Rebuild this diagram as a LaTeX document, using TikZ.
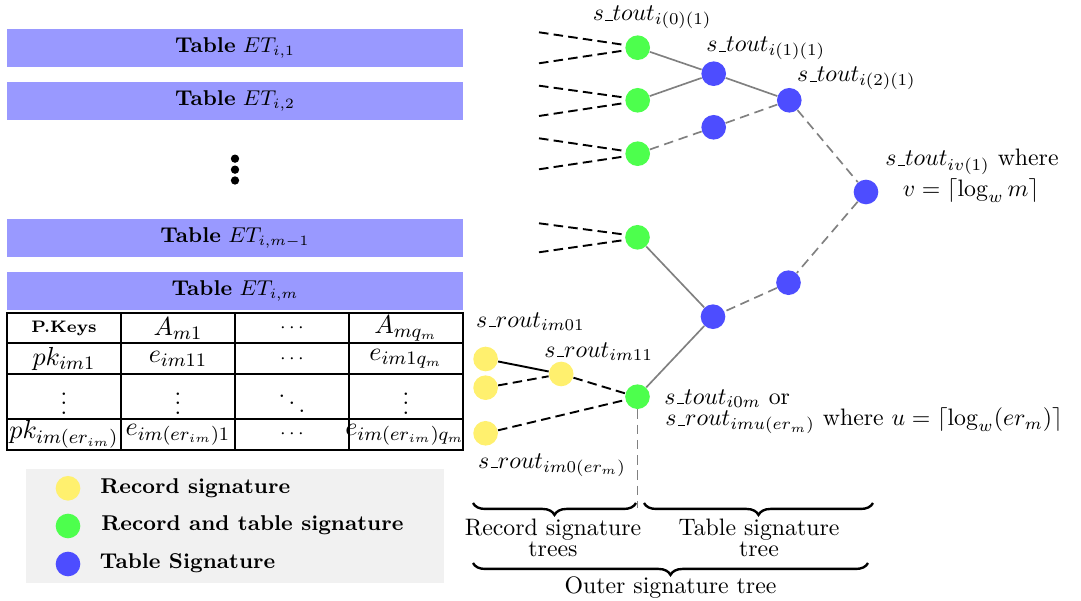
\documentclass[tikz,border=0pt]{standalone}
\usetikzlibrary{decorations.pathreplacing}
\definecolor{barblue}{RGB}{153,153,255}
\definecolor{sigyellow}{RGB}{255,240,110}
\definecolor{siggreen}{RGB}{77,255,77}
\definecolor{sigblue}{RGB}{77,77,255}
\definecolor{legendgray}{RGB}{241,241,241}
% short low bar used inside signature names
\newcommand{\lowbar}{\mbox{\kern.06em\vbox{\hrule width.3em}}}
\begin{document}
\begin{tikzpicture}[x=0.4202pt,y=-0.4202pt,
  bar/.style={fill=barblue, minimum width=191.6pt, minimum height=15.85pt, inner sep=0pt, font=\small},
  sig/.style={circle, inner sep=0pt, minimum size=10.35pt},
  ysig/.style={sig, fill=sigyellow},
  gsig/.style={sig, fill=siggreen},
  bsig/.style={sig, fill=sigblue},
  treeline/.style={draw=gray, line width=0.7pt},
  treedash/.style={treeline, dash pattern=on 4pt off 2.4pt},
  feed/.style={draw=black, line width=0.8pt, dash pattern=on 4pt off 2.2pt},
  link/.style={draw=black, line width=0.8pt},
  grid/.style={line width=0.8pt},
  cell/.style={inner sep=0pt, font=\fontsize{11}{13}\selectfont},
  dotcell/.style={inner sep=0pt, font=\fontsize{8.5}{10}\selectfont},
  keycell/.style={inner sep=0pt, font=\fontsize{7}{8}\selectfont\bfseries},
  lbl/.style={inner sep=0pt, anchor=base west},
  legtext/.style={inner sep=0pt, anchor=base west, font=\small\bfseries},
  bracelbl/.style={inner sep=0pt, anchor=north, align=center, font=\fontsize{10}{8.8}\selectfont},
  brace/.style={decorate, decoration={brace, mirror, amplitude=5pt}, line width=1pt},
]
\useasboundingbox (0,0) rectangle (1081,601);

% ---- stack of tables
\node[bar] (et1) at (235,47.9) {\textbf{Table} $ET_{i,1}$};
\node[bar] (et2) at (235,100.9) {\textbf{Table} $ET_{i,2}$};
\node[bar] (etm1) at (235,237.9) {\textbf{Table} $ET_{i,m-1}$};
\node[bar] (etm) at (235,290.9) {\textbf{Table} $ET_{i,m}$};
\fill (235,158.7) circle (1.75pt) (235,169.7) circle (1.75pt) (235,180.5) circle (1.75pt);

% ---- contents of table ET_{i,m}
\draw[grid] (7,313.3) rectangle (463,450);
\draw[grid] (7,343.3) -- (463,343.3) (7,374) -- (463,374) (7,419) -- (463,419);
\draw[grid] (121,313.3) -- (121,450) (235,313.3) -- (235,450) (349,313.3) -- (349,450);
\node[keycell] (c11) at (64,328.3) {P.Keys};
\node[cell] (c12) at (178,328.3) {$A_{m1}$};
\node[dotcell] (c13) at (292,328.3) {$\cdots$};
\node[cell] (c14) at (406,328.3) {$A_{mq_m}$};
\node[cell] (c21) at (64,358.7) {$pk_{im1}$};
\node[cell] (c22) at (178,358.7) {$e_{im11}$};
\node[dotcell] (c23) at (292,358.7) {$\cdots$};
\node[cell] (c24) at (406,358.7) {$e_{im1q_m}$};
\node[cell] (c31) at (64,396.5) {$\vdots$};
\node[cell] (c32) at (178,396.5) {$\vdots$};
\node[cell] (c33) at (292,396.5) {$\ddots$};
\node[cell] (c34) at (406,396.5) {$\vdots$};
\node[cell] (c41) at (64,434.5) {$pk_{im(er_{im})}$};
\node[cell] (c42) at (178,434.5) {$e_{im(er_{im})1}$};
\node[dotcell] (c43) at (292,434.5) {$\cdots$};
\node[cell] (c44) at (405,434.5) {$e_{im(er_{im})q_m}$};

% ---- legend
\fill[legendgray] (26,469) rectangle (444,583);
\node[ysig] (ly) at (68,488.3) {};
\node[gsig] (lg) at (68,526) {};
\node[bsig] (lb) at (68,564) {};
\node[legtext] (lty) at (100,493.3) {Record signature};
\node[legtext] (ltg) at (101,531) {Record and table signature};
\node[legtext] (ltb) at (99.5,569) {Table Signature};

% ---- signature tree nodes
\node[gsig] (g1) at (637.7,47.7) {};
\node[gsig] (g2) at (637.7,100.3) {};
\node[gsig] (g3) at (637.7,153.7) {};
\node[gsig] (g4) at (637.5,237.3) {};
\node[gsig] (g5) at (637.5,396.7) {};
\node[bsig] (b1) at (713.7,73.7) {};
\node[bsig] (b2) at (713.7,127.3) {};
\node[bsig] (b3) at (789.3,100.3) {};
\node[bsig] (b4) at (866,192) {};
\node[bsig] (b5) at (788.5,282.7) {};
\node[bsig] (b6) at (713,316.7) {};
\node[ysig] (y1) at (485.6,359) {};
\node[ysig] (y2) at (485.6,387.7) {};
\node[ysig] (y3) at (485.6,433.3) {};
\node[ysig] (y4) at (561.2,374) {};

% incoming record trees
\coordinate (f1a) at (539,32.3);  \coordinate (f1b) at (539,63.3);
\coordinate (f2a) at (539,85.7);  \coordinate (f2b) at (539,116);
\coordinate (f3a) at (539,138.3); \coordinate (f3b) at (539,169.3);
\coordinate (f4a) at (539,223.3); \coordinate (f4b) at (539,252.3);
\draw[feed] (f1a) -- (g1.168) (f1b) -- (g1.192);
\draw[feed] (f2a) -- (g2.168) (f2b) -- (g2.192);
\draw[feed] (f3a) -- (g3.168) (f3b) -- (g3.192);
\draw[feed] (f4a) -- (g4.168) (f4b) -- (g4.192);

% table signature tree
\draw[treeline] (g1) -- (b1);
\draw[treeline] (g2) -- (b1);
\draw[treeline] (b1) -- (b3);
\draw[treedash] (g3) -- (b2);
\draw[treedash] (b2) -- (b3);
\draw[treedash] (b3) -- (b4);
\draw[treedash] (b4) -- (b5);
\draw[treedash] (b5) -- (b6);
\draw[treeline] (g4) -- (b6);
\draw[treeline] (b6) -- (g5);
\coordinate (vend) at (637.5,508);
\draw[treedash] (g5) -- (vend);

% record signature tree
\draw[link] (y1) -- (y4);
\draw[feed] (y2) -- (y4);
\draw[feed] (y4) -- (g5.165);
\draw[feed] (y3) -- (g5.195);

% ---- labels
\node[lbl] (l1) at (592.3,20.7) {$s\lowbar tout_{i(0)(1)}$};
\node[lbl] (l2) at (706,51.7) {$s\lowbar tout_{i(1)(1)}$};
\node[lbl] (l3) at (796.7,81.7) {$s\lowbar tout_{i(2)(1)}$};
\node[inner sep=0pt, anchor=base] (l4a) at (972,166) {$s\lowbar tout_{iv(1)}$ where};
\node[inner sep=0pt, anchor=base] (l4b) at (971,196.7) {$v=\lceil\log_w m\rceil$};
\node[lbl] (l5) at (475.7,327.3) {$s\lowbar rout_{im01}$};
\node[lbl] (l6) at (544,357.3) {$s\lowbar rout_{im11}$};
\node[lbl] (l7) at (477.7,468.3) {$s\lowbar rout_{im0(er_m)}$};
\node[lbl] (l8a) at (664,404.3) {$s\lowbar tout_{i0m}$ or};
\node[lbl] (l8b) at (665,425.7) {$s\lowbar rout_{imu(er_m)}$ where $u=\lceil\log_w(er_m)\rceil$};

% ---- braces
\coordinate (r1) at (473,503); \coordinate (r2) at (636,503);
\coordinate (t1) at (644,503); \coordinate (t2) at (873,503);
\coordinate (o1) at (473,563); \coordinate (o2) at (868,563);
\draw[brace] (r1) -- (r2);
\draw[brace] (t1) -- (t2);
\draw[brace] (o1) -- (o2);
\node[bracelbl] (rl) at (553,519) {Record signature\\trees};
\node[bracelbl] (tl) at (759,519) {Table signature\\tree};
\node[inner sep=0pt, anchor=base] (ol) at (670.5,593.3) {Outer signature tree};
\end{tikzpicture}
\end{document}
